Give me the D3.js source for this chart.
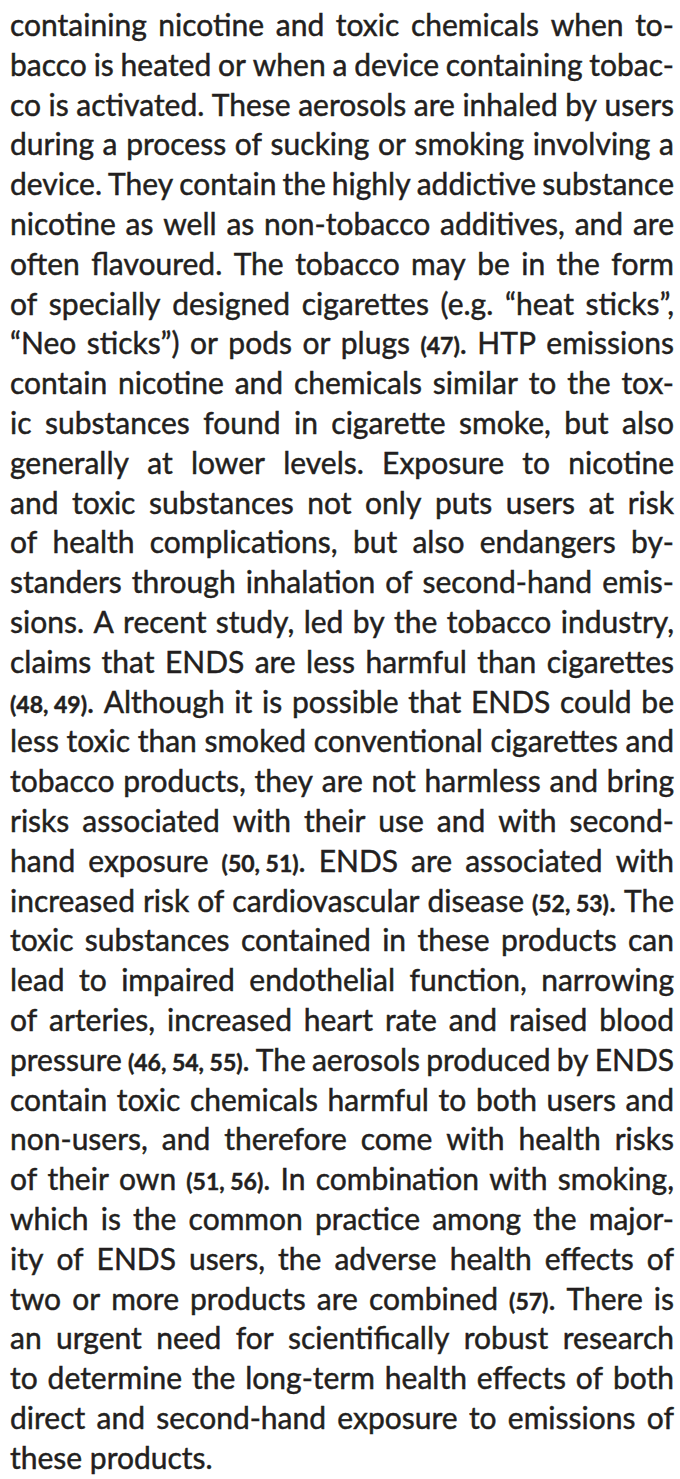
<!DOCTYPE html>
<html>
<head>
<meta charset="utf-8">
<script src="https://cdn.jsdelivr.net/npm/d3@7"></script>
<style>
  html, body { margin: 0; padding: 0; background: #fff; }
  svg { display: block; }
</style>
</head>
<body>
<script>
// text lines as set in the original (justified column)
var lines = [
  "containing nicotine and toxic chemicals when to-",
  "bacco is heated or when a device containing tobac-",
  "co is activated. These aerosols are inhaled by users",
  "during a process of sucking or smoking involving a",
  "device. They contain the highly addictive substance",
  "nicotine as well as non-tobacco additives, and are",
  "often flavoured. The tobacco may be in the form",
  "of specially designed cigarettes (e.g. “heat sticks”,",
  "“Neo sticks”) or pods or plugs (47). HTP emissions",
  "contain nicotine and chemicals similar to the tox-",
  "ic substances found in cigarette smoke, but also",
  "generally at lower levels. Exposure to nicotine",
  "and toxic substances not only puts users at risk",
  "of health complications, but also endangers by-",
  "standers through inhalation of second-hand emis-",
  "sions. A recent study, led by the tobacco industry,",
  "claims that ENDS are less harmful than cigarettes",
  "(48, 49). Although it is possible that ENDS could be",
  "less toxic than smoked conventional cigarettes and",
  "tobacco products, they are not harmless and bring",
  "risks associated with their use and with second-",
  "hand exposure (50, 51). ENDS are associated with",
  "increased risk of cardiovascular disease (52, 53). The",
  "toxic substances contained in these products can",
  "lead to impaired endothelial function, narrowing",
  "of arteries, increased heart rate and raised blood",
  "pressure (46, 54, 55). The aerosols produced by ENDS",
  "contain toxic chemicals harmful to both users and",
  "non-users, and therefore come with health risks",
  "of their own (51, 56). In combination with smoking,",
  "which is the common practice among the major-",
  "ity of ENDS users, the adverse health effects of",
  "two or more products are combined (57). There is",
  "an urgent need for scientifically robust research",
  "to determine the long-term health effects of both",
  "direct and second-hand exposure to emissions of",
  "these products."
];

var width = 680, height = 1479;
var left = 10, right = 674;
var firstBase = 36, lineStep = 39.8;
var fontSize = 30, citeSize = 23;
var ink = "#231f20";

var cite = /(\(\d[\d,\u00a0 ]*\))/;

const svg = d3.select("body").append("svg")
    .attr("width", width)
    .attr("height", height)
    .attr("viewBox", [0, 0, width, height]);

const g = svg.append("g")
    .attr("font-family", "Lato, 'Open Sans', sans-serif")
    .attr("font-size", fontSize)
    .attr("fill", ink);

// break each line into words, keeping citations in one piece
var rows = lines.map(function(l, i) {
  var s = l.replace(/\(\d[\d, ]*\)/g, m => m.replace(/ /g, "\u00a0"));
  return {i: i, words: s.split(" ").map(w => w.split(cite).filter(p => p.length))};
});

function addWord(sel, parts) {
  parts.forEach(function(p) {
    var isCite = cite.test(p);
    sel.append("tspan")
      .attr("font-size", isCite ? citeSize : null)
      .attr("font-weight", isCite ? 700 : null)
      .text(p);
  });
}

// measure words
var probe = g.append("text").attr("x", 0).attr("y", -100);
rows.forEach(function(r) {
  r.widths = r.words.map(function(w) {
    probe.selectAll("tspan").remove();
    addWord(probe, w);
    return probe.node().getComputedTextLength();
  });
});
probe.text("a a");
var sp = probe.node().getComputedTextLength();
probe.text("aa");
sp -= probe.node().getComputedTextLength();
probe.remove();

// common horizontal condense so every line fits with a tight gap
var target = right - left;
var sx = d3.min(rows.slice(0, -1), r => target / (d3.sum(r.widths) + (r.words.length - 1) * sp * 0.75));
sx = Math.min(1, sx);

const body = g.append("g")
    .attr("stroke", ink)
    .attr("stroke-width", 0.45)
    .attr("transform", `translate(${left},0) scale(${sx},1)`);

rows.forEach(function(r, k) {
  var last = k === rows.length - 1;
  var T = target / sx;
  var gap = last ? sp : (T - d3.sum(r.widths)) / (r.words.length - 1);
  var x = 0;
  var y = firstBase + r.i * lineStep;
  r.words.forEach(function(w, j) {
    var t = body.append("text").attr("x", x).attr("y", y);
    addWord(t, w);
    x += r.widths[j] + gap;
  });
});
</script>
</body>
</html>
